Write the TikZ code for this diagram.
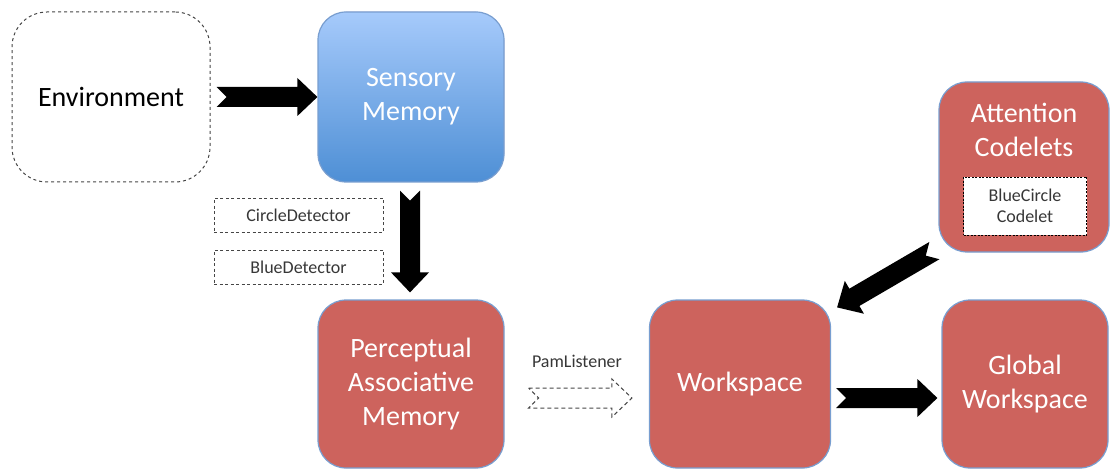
\documentclass[tikz,border=0pt]{standalone}
\usepackage{fontspec}
\setmainfont{Carlito}
\usetikzlibrary{calc}
\definecolor{boxred}{RGB}{205,99,93}
\definecolor{boxedge}{RGB}{120,158,208}
\definecolor{smtop}{RGB}{166,202,251}
\definecolor{smbot}{RGB}{78,143,213}
\definecolor{dashgray}{RGB}{70,70,70}
\definecolor{txtgray}{RGB}{55,55,55}
\newcommand\ntcharrow[3][]{%
  \coordinate (nS) at #2;
  \coordinate (nE) at #3;
  \coordinate (nB) at ($(nE)!20pt!(nS)$);
  \path[#1] ($(nS)!10pt!90:(nE)$) -- ($(nB)!10pt!90:(nE)$) -- ($(nB)!19pt!90:(nE)$)
    -- (nE) -- ($(nB)!19pt!-90:(nE)$) -- ($(nB)!10pt!-90:(nE)$)
    -- ($(nS)!10pt!-90:(nE)$) -- ($(nS)!10pt!(nE)$) -- cycle;
}
\tikzset{
  redbox/.style={rectangle, rounded corners=28pt, fill=boxred, draw=boxedge,
    line width=1.2pt, text=white, align=center, inner sep=0pt,
    font=\fontsize{28}{34}\selectfont},
  envbox/.style={rectangle, rounded corners=35pt, draw=dashgray, dashed,
    line width=1pt, fill=white, align=center, inner sep=0pt,
    font=\fontsize{28}{34}\selectfont},
  detbox/.style={rectangle, draw=dashgray, dash pattern=on 3pt off 2.5pt,
    line width=0.9pt, text=txtgray, align=center, inner sep=0pt,
    font=\fontsize{18}{21}\selectfont},
  smalltxt/.style={text=txtgray, font=\fontsize{18}{21}\selectfont, inner sep=0pt},
  fatarrow/.style={fill=black},
  hollowarrow/.style={draw=dashgray, dash pattern=on 4pt off 3pt, line width=1pt},
}
\begin{document}
\begin{tikzpicture}[x=1pt,y=-1pt]
\useasboundingbox (0,0) rectangle (1110,473);
% boxes
\node[envbox, minimum width=198pt, minimum height=170pt] (env) at (111,97) {Environment};
\node[redbox, draw=boxedge, top color=smtop, bottom color=smbot,
  minimum width=186pt, minimum height=170pt] (sm) at (411,97) {Sensory\\Memory};
\node[redbox, minimum width=186pt, minimum height=168pt] (pam) at (411,384)
  {Perceptual\\Associative\\Memory};
\node[redbox, minimum width=181pt, minimum height=168pt] (ws) at (740,384) {Workspace};
\node[redbox, minimum width=166pt, minimum height=168pt] (gw) at (1025,384) {Global\\Workspace};
\node[redbox, minimum width=170pt, minimum height=170pt] (ac) at (1024,167) {};
\node[text=white, align=center, inner sep=0pt, font=\fontsize{28}{34}\selectfont]
  (actext) at (1024,130) {Attention\\Codelets};
\node[detbox, fill=white, draw=black, text=txtgray, minimum width=123pt, minimum height=58pt,
  dash pattern=on 2pt off 1.5pt] (bcc) at (1025,206) {BlueCircle\\Codelet};
\node[detbox, minimum width=169pt, minimum height=34pt] (cd) at (298.5,215) {CircleDetector};
\node[detbox, minimum width=169pt, minimum height=34pt] (bd) at (298.5,267) {BlueDetector};
\node[smalltxt] (pl) at (577,361) {PamListener};
% connectors
\ntcharrow[fatarrow]{($(env.east)+(6,0)$)}{(sm.west)}
\ntcharrow[fatarrow]{($(sm.south)+(-1,8)$)}{($(pam.north)+(-1,-7)$)}
\ntcharrow[fatarrow]{($(ws.east)+(5,14)$)}{($(gw.west)+(-4,14)$)}
\ntcharrow[hollowarrow]{($(pam.east)+(24,14)$)}{($(ws.west)+(-17,14)$)}
\ntcharrow[fatarrow]{($(ac.south west)+(-4,-2)$)}{($(ws.north east)+(6,8)$)}
\end{tikzpicture}
\end{document}
